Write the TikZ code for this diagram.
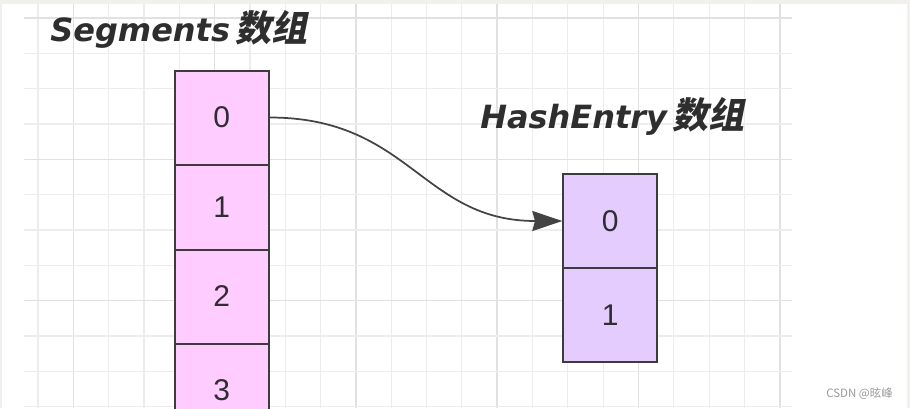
\documentclass[tikz,border=0pt]{standalone}
\usepackage{fontspec}
\setmainfont{Liberation Sans}
\newfontfamily\titlefont{DejaVu Sans}
\newfontfamily\cjk{Noto Sans CJK SC}[FakeSlant=0.2]
\newfontfamily\cjkwm{Noto Sans CJK SC}
\usetikzlibrary{arrows.meta}
\definecolor{bandgray}{HTML}{F1F0ED}
\definecolor{gridminor}{HTML}{EDEDED}
\definecolor{gridmajor}{HTML}{E1E1E1}
\definecolor{segfill}{HTML}{FFCCFF}
\definecolor{hashfill}{HTML}{E5CCFF}
\definecolor{edgegray}{HTML}{3C3C3C}
\definecolor{txtdark}{HTML}{2E2E2E}
\definecolor{wmgray}{HTML}{9A9A9A}
\tikzset{
  cell/.style={draw=edgegray, line width=1.5pt, minimum width=70.5pt, inner sep=0pt,
    font=\fontsize{22.5}{26}\selectfont, text=txtdark},
  segcell/.style={cell, fill=segfill},
  hashcell/.style={cell, fill=hashfill},
  titletext/.style={anchor=base west, inner sep=0pt, text=txtdark},
  link/.style={draw=txtdark!90, line width=1.3pt, -{Stealth[length=22.5pt, width=15pt, inset=2pt]}},
  minorline/.style={draw=gridminor, line width=0.8pt},
  majorline/.style={draw=gridmajor, line width=1.2pt}
}
\newcommand{\latintitle}[1]{{\titlefont\fontsize{24}{28}\selectfont\bfseries\itshape #1}}
\newcommand{\cjktitle}[1]{{\cjk\fontsize{27}{30}\selectfont\bfseries #1}}
\begin{document}
\begin{tikzpicture}[x=0.75pt,y=-0.75pt]
\useasboundingbox (0,0) rectangle (910,408);
\clip (0,0) rectangle (910,408);
% background
\fill[white] (0,0) rectangle (910,408);
\fill[bandgray] (0,0) rectangle (910,4);
\fill[bandgray] (0,0) rectangle (2,408);
\fill[bandgray] (907,0) rectangle (910,408);
% grid
\foreach \k in {0,...,21}{
  \pgfmathtruncatemacro{\m}{mod(\k-1+40,4)}
  \ifnum\m=0 \draw[majorline] ({38+\k*35.33},4) -- ({38+\k*35.33},408);
  \else \draw[minorline] ({38+\k*35.33},4) -- ({38+\k*35.33},408); \fi
}
\foreach \k in {0,...,11}{
  \pgfmathtruncatemacro{\m}{mod(\k,4)}
  \ifnum\m=0 \draw[majorline] (24,{18+\k*35.33}) -- (792,{18+\k*35.33});
  \else \draw[minorline] (24,{18+\k*35.33}) -- (792,{18+\k*35.33}); \fi
}
% titles
\node[titletext] (segtitle) at (50,41) {\latintitle{Segments}\hspace{4pt}\cjktitle{数组}};
\node[titletext] (hashtitle) at (480,128) {\latintitle{HashEntry}\hspace{4pt}\cjktitle{数组}};
% segments array
\node[segcell, minimum height=70.5pt] (s0) at (221.7,117.5) {0};
\node[segcell, minimum height=63.75pt] (s1) at (221.7,207) {1};
\node[segcell, minimum height=70.5pt] (s2) at (221.7,296.5) {2};
\node[segcell, minimum height=70.5pt] (s3) at (221.7,390.5) {3};
% hashentry array
\node[hashcell, minimum height=70.5pt] (h0) at (610.3,221) {0};
\node[hashcell, minimum height=70.5pt] (h1) at (610.3,315) {1};
% connector
\draw[link] (s0.east) .. controls +(140,0) and +(-140,0) .. (h0.west);
% watermark
\node[anchor=base east, inner sep=0pt, text=wmgray] (wm) at (893,397) {\cjkwm\fontsize{8.6}{10}\selectfont CSDN @昡峰};
\end{tikzpicture}
\end{document}
